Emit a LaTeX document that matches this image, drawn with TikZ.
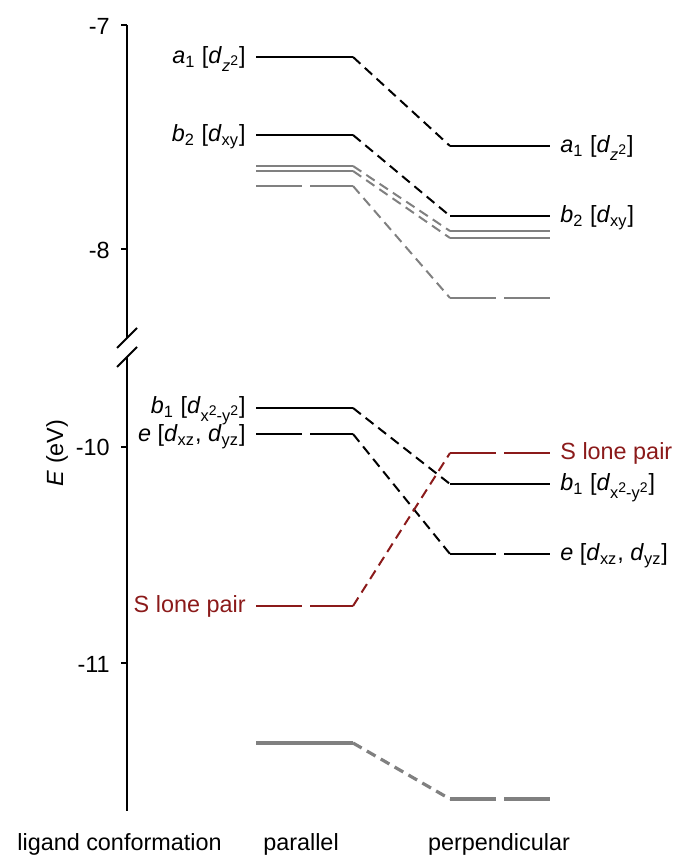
\documentclass[tikz,border=0pt]{standalone}
\usepackage{fontspec}
\setmainfont{Liberation Sans}
\usepackage{xcolor}
\usepackage{tikz}
\usetikzlibrary{positioning}
\definecolor{lonepair}{HTML}{8B1A1A}
\definecolor{greylevel}{HTML}{808080}
\newcommand{\orbfont}{\fontsize{11.7}{14}\selectfont}
\newcommand{\orbname}[3]{\textit{#1}\textsubscript{#2} [\textit{d}\textsubscript{#3}]}
\newcommand{\sqr}{\raisebox{0.75ex}{\fontsize{7}{8}\selectfont 2}}
\tikzset{
  axis/.style={line width=1.2pt},
  level/.style={line width=1pt},
  split/.style={dash pattern=on 23pt off 4pt},
  link/.style={line width=1pt, dash pattern=on 5pt off 3pt},
  minor/.style={draw=greylevel},
  heavy/.style={line width=1.6pt},
  lp/.style={draw=lonepair},
  orb/.style={font=\orbfont, inner sep=0pt},
  orbL/.style={orb, anchor=mid east, xshift=-5pt, yshift=-0.8pt},
  orbR/.style={orb, anchor=mid west, xshift=5pt, yshift=-0.8pt},
  ticklabel/.style={orb, anchor=east}
}

\begin{document}
\begin{tikzpicture}[x=0.5pt,y=-0.5pt]
\path[use as bounding box] (0,0) rectangle (676,855);

% energy axis with break
\coordinate (axtop) at (127,25);
\coordinate (axbrk1) at (127,338);
\coordinate (axbrk2) at (127,357);
\coordinate (axbot) at (127,811);
\draw[axis] (axtop) -- (axbrk1);
\draw[axis] (axbrk2) -- (axbot);
\draw[axis, line width=1pt] (117,348) -- (137,328);
\draw[axis, line width=1pt] (117,367) -- (137,347);
\draw[axis] (121,25) -- (axtop);
\draw[axis] (121,249) -- (127,249);
\draw[axis] (121,447) -- (127,447);
\draw[axis] (121,663) -- (127,663);
\node[ticklabel] (t7) at (110,26) {-7};
\node[ticklabel] (t8) at (110,250) {-8};
\node[ticklabel] (t10) at (110,447) {-10};
\node[ticklabel] (t11) at (110,664) {-11};
\node[orb, rotate=90] (elabel) at (57,453) {\textit{E} (eV)};

% parallel levels
\draw[level] (256,57) coordinate (a1Pl) -- (353,57) coordinate (a1Pr);
\draw[level] (256,135) coordinate (b2Pl) -- (353,135) coordinate (b2Pr);
\draw[level, minor] (256,166) coordinate (g1Pl) -- (353,166) coordinate (g1Pr);
\draw[level, minor] (256,171) coordinate (g2Pl) -- (353,171) coordinate (g2Pr);
\draw[level, minor, split] (256,186) coordinate (g3Pl) -- (353,186) coordinate (g3Pr);
\draw[level] (256,408) coordinate (b1Pl) -- (353,408) coordinate (b1Pr);
\draw[level, split] (256,434) coordinate (ePl) -- (353,434) coordinate (ePr);
\draw[level, lp, split] (256,606) coordinate (sPl) -- (353,606) coordinate (sPr);
\draw[level, minor, heavy] (256,743) coordinate (g4Pl) -- (353,743) coordinate (g4Pr);

% perpendicular levels
\draw[level] (450,146) coordinate (a1Ql) -- (550,146) coordinate (a1Qr);
\draw[level] (450,216) coordinate (b2Ql) -- (550,216) coordinate (b2Qr);
\draw[level, minor] (450,231) coordinate (g1Ql) -- (550,231) coordinate (g1Qr);
\draw[level, minor] (450,238) coordinate (g2Ql) -- (550,238) coordinate (g2Qr);
\draw[level, minor, split] (450,298) coordinate (g3Ql) -- (550,298) coordinate (g3Qr);
\draw[level, lp, split] (450,453) coordinate (sQl) -- (550,453) coordinate (sQr);
\draw[level] (450,484) coordinate (b1Ql) -- (550,484) coordinate (b1Qr);
\draw[level, split] (450,554) coordinate (eQl) -- (550,554) coordinate (eQr);
\draw[level, minor, heavy, split] (450,799) coordinate (g4Ql) -- (550,799) coordinate (g4Qr);

% correlation lines
\draw[link] (a1Pr) -- (a1Ql);
\draw[link] (b2Pr) -- (b2Ql);
\draw[link, minor] (g1Pr) -- (g1Ql);
\draw[link, minor] (g2Pr) -- (g2Ql);
\draw[link, minor] (g3Pr) -- (g3Ql);
\draw[link] (b1Pr) -- (b1Ql);
\draw[link] (ePr) -- (eQl);
\draw[link, lp] (sPr) -- (sQl);
\draw[link, minor, heavy] (g4Pr) -- (g4Ql);

% labels
\node[orbL] (a1P) at (a1Pl) {\orbname{a}{1}{\textit{z}\sqr}};
\node[orbL] (b2P) at (b2Pl) {\orbname{b}{2}{xy}};
\node[orbL, yshift=0.6pt] (b1P) at (b1Pl) {\orbname{b}{1}{x\sqr-y\sqr}};
\node[orbL, yshift=-0.4pt] (eP) at (ePl) {\textit{e} [\textit{d}\textsubscript{xz}, \textit{d}\textsubscript{yz}]};
\node[orbL, text=lonepair] (sP) at (sPl) {S lone pair};
\node[orbR] (a1Q) at (a1Qr) {\orbname{a}{1}{\textit{z}\sqr}};
\node[orbR] (b2Q) at (b2Qr) {\orbname{b}{2}{xy}};
\node[orbR, text=lonepair] (sQ) at (sQr) {S lone pair};
\node[orbR] (b1Q) at (b1Qr) {\orbname{b}{1}{x\sqr-y\sqr}};
\node[orbR] (eQ) at (eQr) {\textit{e} [\textit{d}\textsubscript{xz}, \textit{d}\textsubscript{yz}]};

% conformation row
\node[orb, anchor=base east] (conf) at (222,850) {ligand conformation};
\node[orb, anchor=base] (par) at (301,850) {parallel};
\node[orb, anchor=base] (perp) at (499,850) {perpendicular};
\end{tikzpicture}
\end{document}
